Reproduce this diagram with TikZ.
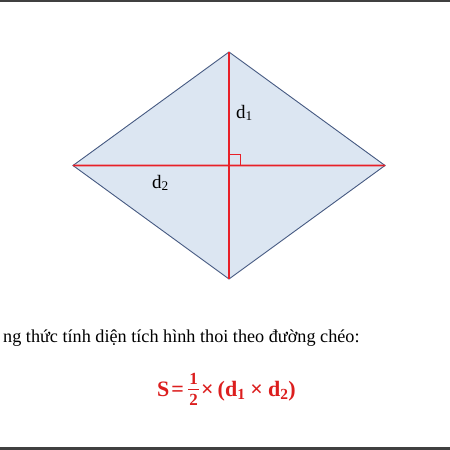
\documentclass[tikz,border=0pt]{standalone}
\usepackage{fontspec}
\setmainfont{Liberation Serif}
\definecolor{fillblue}{RGB}{220,230,242}
\definecolor{edgeblue}{RGB}{70,90,130}
\definecolor{diagred}{RGB}{232,32,40}
\definecolor{frmred}{RGB}{220,30,30}
\definecolor{bordergray}{RGB}{64,64,64}
\tikzset{
  diagline/.style={draw=diagred, line width=1.8pt},
  lbl/.style={font=\fontsize{19}{21}\selectfont, inner sep=0pt},
  frm/.style={inner sep=0pt, text=frmred, font=\bfseries\fontsize{22}{24}\selectfont},
  frmdigit/.style={inner sep=0pt, text=frmred, font=\bfseries\fontsize{17}{18}\selectfont, anchor=base},
}
\begin{document}
\begin{tikzpicture}[x=1pt,y=-1pt]
\useasboundingbox (0,0) rectangle (450,450);
\fill[white] (0,0) rectangle (450,450);
\fill[bordergray] (0,0) rectangle (450,1.5);
\fill[bordergray] (0,446.5) rectangle (450,450);
\coordinate (T) at (229,52);
\coordinate (B) at (229,279);
\coordinate (Lv) at (73,165.5);
\coordinate (Rv) at (385,165.5);
\coordinate (Rh) at (385,165.55);
\coordinate (O) at (229,165.5);
\filldraw[fill=fillblue, draw=edgeblue, line width=0.9pt] (T) -- (Rv) -- (B) -- (Lv) -- cycle;
\draw[diagline] (T) -- (B);
\draw[diagline] (Lv) -- (Rh);
\draw[draw=diagred, line width=1pt] ([yshift=11pt]O) -- ++(11,0) -- ++(0,11);
\node[lbl, anchor=base west] (d1) at (236,118) {d\textsubscript{1}};
\node[lbl, anchor=base west] (d2) at (152,188) {d\textsubscript{2}};
\node[anchor=base west, inner sep=0pt, font=\fontsize{18.2}{20}\selectfont] (txt) at (3,342) {ng thức tính diện tích hình thoi theo đường chéo:};
\node[frm, anchor=base west] (fs) at (157,396) {S\hspace{2pt}=};
\node[frmdigit] (fn) at (193.5,384) {1};
\node[frmdigit] (fd) at (193.5,405.5) {2};
\coordinate (barL) at (188,389.5);
\coordinate (barR) at (199,389.5);
\draw[frmred, line width=1.1pt] (barL) -- (barR);
\node[frm, anchor=base west] (fr) at (201,396) {×\hspace{4pt}(d\textsubscript{1}\hspace{5pt}×\hspace{5pt}d\textsubscript{2})};
\end{tikzpicture}
\end{document}
